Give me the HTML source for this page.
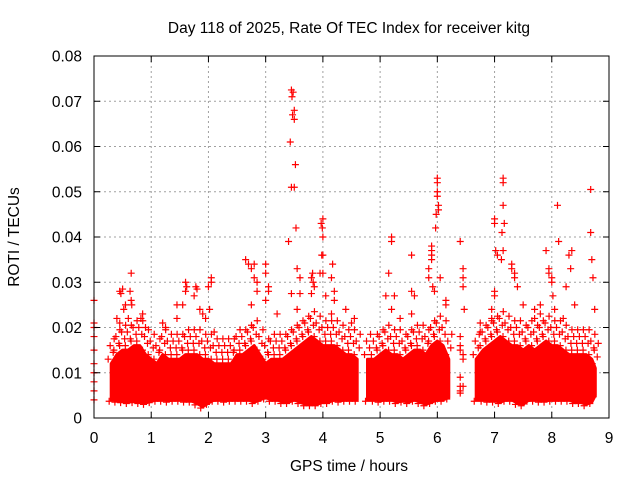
<!DOCTYPE html>
<html><head><meta charset="utf-8"><style>
body{margin:0;background:#fff;}
svg{display:block;font-family:"Liberation Sans",sans-serif;}
</style></head><body>
<svg id="chart" width="640" height="480" viewBox="0 0 640 480">
<rect width="640" height="480" fill="#fff"/>
<text x="349" y="33" font-size="15.5" text-anchor="middle">Day 118 of 2025, Rate Of TEC Index for receiver kitg</text>
<text transform="translate(19,237) rotate(-90)" font-size="15.5" text-anchor="middle">ROTI / TECUs</text>
<text x="349" y="471" font-size="15.5" text-anchor="middle">GPS time / hours</text>
<g id="grid"></g><g id="band"></g><g id="pts"></g><g id="axes"></g>
</svg>
<script>
const xTicks=[0,1,2,3,4,5,6,7,8,9];
const yTicks=[0,0.01,0.02,0.03,0.04,0.05,0.06,0.07,0.08];
const yTickLabels=["0","0.01","0.02","0.03","0.04","0.05","0.06","0.07","0.08"];
// dense core of ROTI values per time bin (three observation arcs)
const bandTimes1=[0.3,0.4,0.5,0.6,0.7,0.8,0.9,1.0,1.1,1.2,1.3,1.4,1.5,1.6,1.7,1.8,1.9,2.0,2.1,2.2,2.3,2.4,2.5,2.6,2.7,2.8,2.9,3.0,3.1,3.2,3.3,3.4,3.5,3.6,3.7,3.8,3.9,4.0,4.1,4.2,4.3,4.4,4.5,4.6];
const bandHi1=[0.012,0.014,0.015,0.015,0.016,0.016,0.014,0.013,0.012,0.014,0.013,0.013,0.013,0.014,0.014,0.014,0.013,0.013,0.012,0.012,0.012,0.012,0.014,0.014,0.015,0.016,0.014,0.012,0.013,0.013,0.013,0.014,0.015,0.016,0.017,0.018,0.017,0.016,0.016,0.016,0.015,0.014,0.014,0.013];
const bandLo1=[0.004,0.0038,0.0037,0.0035,0.0037,0.0035,0.0033,0.0037,0.004,0.004,0.0038,0.004,0.004,0.0038,0.0038,0.0032,0.0025,0.0033,0.004,0.004,0.0038,0.004,0.004,0.004,0.004,0.0035,0.004,0.0045,0.004,0.004,0.0035,0.0035,0.004,0.0035,0.003,0.003,0.003,0.0035,0.0035,0.004,0.0038,0.004,0.004,0.004];
const bandTimes2=[4.78,4.9,5.0,5.1,5.2,5.3,5.4,5.5,5.6,5.7,5.8,5.9,6.0,6.1,6.2];
const bandHi2=[0.013,0.013,0.014,0.015,0.014,0.014,0.013,0.014,0.015,0.015,0.014,0.016,0.017,0.016,0.013];
const bandLo2=[0.004,0.004,0.0038,0.004,0.004,0.0035,0.0038,0.0035,0.004,0.0035,0.003,0.0035,0.004,0.004,0.0045];
const bandTimes3=[6.68,6.8,6.9,7.0,7.1,7.2,7.3,7.4,7.5,7.6,7.7,7.8,7.9,8.0,8.1,8.2,8.3,8.4,8.5,8.6,8.7,8.76];
const bandHi3=[0.013,0.015,0.016,0.017,0.018,0.017,0.016,0.016,0.015,0.016,0.015,0.016,0.017,0.016,0.016,0.015,0.014,0.014,0.014,0.014,0.013,0.011];
const bandLo3=[0.004,0.004,0.0038,0.0038,0.0035,0.004,0.004,0.0033,0.003,0.004,0.004,0.0038,0.0038,0.004,0.004,0.004,0.004,0.0035,0.0035,0.003,0.0035,0.005];
// scattered individual points (hours, TECU/min)
const ptTimes=[0,0,0,0,0,0,0,0,0,0,0.45,0.47,0.5,0.55,0.52,0.4,0.45,0.65,0.63,0.65,0.66,0.6,0.85,0.82,0.9,1.2,1.25,1.45,1.45,1.55,1.6,1.62,1.6,1.75,1.78,1.8,1.85,1.9,1.95,2.0,2.05,2.05,2.02,2.1,2.65,2.7,2.75,2.8,2.85,2.8,2.75,2.85,3.0,3.0,3.05,3.0,3.05,3.2,3.45,3.48,3.46,3.47,3.5,3.5,3.43,3.52,3.45,3.5,3.4,3.53,3.55,3.45,3.6,3.6,3.55,3.8,3.82,3.83,3.8,3.85,3.97,4.0,3.99,4.0,3.98,4.0,3.95,4.0,4.05,4.15,4.17,4.2,4.2,4.15,4.4,4.5,4.55,
5.2,5.2,5.15,5.1,5.25,5.2,5.35,5.55,5.55,5.6,5.55,5.9,5.9,5.9,5.9,5.85,5.85,5.92,5.95,6.0,6.0,6.0,6.0,5.98,6.02,6.02,5.97,6.05,6.15,6.15,6.4,6.45,6.45,6.45,6.47,6.4,6.4,6.4,6.45,6.45,6.4,6.4,6.4,6.4,6.45,
7.0,7.0,7.02,7.05,7.12,7.15,7.15,7.15,7.17,7.13,7.15,7.3,7.3,7.35,7.35,7.4,7.5,7.9,7.95,7.95,8.0,8.0,8.02,8.1,8.12,8.3,8.35,8.33,8.25,8.4,8.68,8.68,8.7,8.72,8.75,7.0,7.0,6.95,6.95,6.75,6.75,7.7,7.7,7.8,7.8,8.05,8.2];
const ptValues=[0.026,0.021,0.02,0.018,0.015,0.012,0.01,0.008,0.006,0.004,0.028,0.0275,0.0285,0.025,0.024,0.022,0.021,0.032,0.028,0.026,0.025,0.022,0.023,0.022,0.02,0.021,0.02,0.022,0.025,0.025,0.03,0.029,0.028,0.027,0.029,0.0285,0.024,0.023,0.022,0.029,0.03,0.031,0.024,0.019,0.035,0.034,0.033,0.034,0.03,0.031,0.025,0.028,0.034,0.032,0.029,0.026,0.028,0.023,0.0725,0.072,0.071,0.067,0.066,0.068,0.061,0.056,0.051,0.051,0.039,0.042,0.033,0.0275,0.031,0.0275,0.024,0.031,0.032,0.03,0.0275,0.029,0.043,0.044,0.042,0.04,0.036,0.036,0.032,0.032,0.027,0.031,0.034,0.028,0.026,0.023,0.024,0.021,0.022,
0.040,0.039,0.032,0.027,0.027,0.024,0.022,0.036,0.028,0.027,0.023,0.038,0.037,0.036,0.035,0.033,0.031,0.029,0.028,0.053,0.052,0.05,0.049,0.045,0.047,0.046,0.042,0.031,0.026,0.025,0.039,0.033,0.031,0.029,0.024,0.018,0.016,0.015,0.014,0.013,0.009,0.007,0.006,0.0055,0.007,
0.044,0.043,0.037,0.036,0.035,0.053,0.052,0.047,0.043,0.041,0.037,0.034,0.033,0.031,0.032,0.029,0.025,0.037,0.033,0.032,0.030,0.031,0.027,0.047,0.039,0.036,0.037,0.033,0.029,0.025,0.0505,0.041,0.035,0.031,0.024,0.027,0.028,0.024,0.022,0.021,0.019,0.022,0.024,0.025,0.023,0.024,0.022];
const X0=94,X1=609,Y0=418,Y1=56;
const xs=t=>X0+(t-0)/(9-0)*(X1-X0);
const ys=v=>Y0-(v-0)/(0.08-0)*(Y0-Y1);
const NS="http://www.w3.org/2000/svg";
function mk(tag,attrs,parent){const e=document.createElementNS(NS,tag);for(const k in attrs)e.setAttribute(k,attrs[k]);parent.appendChild(e);return e;}
const grid=document.getElementById('grid'),axes=document.getElementById('axes'),band=document.getElementById('band'),pts=document.getElementById('pts');
function cross(x,y){
  const m=mk('path',{d:`M${x-3.5},${y}h7M${x},${y-3.5}v7`,stroke:'#f00','stroke-width':1.2},pts);
  
  
}
xTicks.forEach((t,i)=>{
  const x=xs(t);
  if(i>0&&i<xTicks.length-1){const g=mk('line',{x1:x,y1:Y1,x2:x,y2:Y0,stroke:'#a0a0a0','stroke-dasharray':'2,3'},grid);
  
  }
  const tk=mk('path',{d:`M${x},${Y0}v-6M${x},${Y1}v6`,stroke:'#000'},axes);
  
  
  const lb=mk('text',{x:x,y:443,'font-size':15.5,'text-anchor':'middle'},axes);lb.textContent=t;
  
  
});
yTicks.forEach((v,i)=>{
  const y=ys(v);
  if(i>0&&i<yTicks.length-1){const g=mk('line',{x1:X0,y1:y,x2:X1,y2:y,stroke:'#a0a0a0','stroke-dasharray':'2,3'},grid);
  
  }
  const tk=mk('path',{d:`M${X0},${y}h6M${X1},${y}h-6`,stroke:'#000'},axes);
  
  
  const lb=mk('text',{x:82,y:y+5.5,'font-size':15.5,'text-anchor':'end'},axes);lb.textContent=yTickLabels[i];
  
  
});
const fr=mk('rect',{x:X0,y:Y1,width:X1-X0,height:Y0-Y1,fill:'none',stroke:'#000'},axes);


[[bandTimes1,bandHi1,bandLo1],[bandTimes2,bandHi2,bandLo2],[bandTimes3,bandHi3,bandLo3]].forEach(([T,H,L])=>{
  let d='';T.forEach((t,i)=>{d+=(i?'L':'M')+xs(t).toFixed(1)+','+ys(H[i]).toFixed(1);});
  for(let i=T.length-1;i>=0;i--)d+='L'+xs(T[i]).toFixed(1)+','+ys(L[i]).toFixed(1);
  const p=mk('path',{d:d+'Z',fill:'#f00',stroke:'#f00','stroke-width':3,'stroke-linejoin':'round'},band);
  
  
  T.forEach((t,i)=>{
    const x=xs(t);
    cross(x-3,ys(H[i]+0.001));
    cross(x+2,ys(H[i]+0.0025));
    cross(x-1,ys(H[i]+0.004));
    cross(x+3,ys(H[i]+0.0055));
    cross(x-2,ys(L[i]-0.0003));
  });
});
ptTimes.forEach((t,i)=>cross(xs(t),ys(ptValues[i])));
</script>
</body></html>
